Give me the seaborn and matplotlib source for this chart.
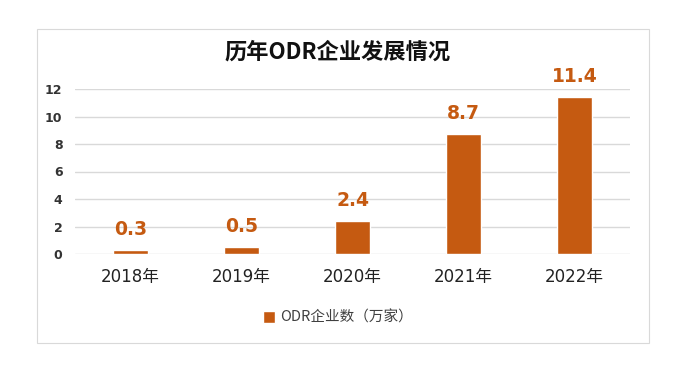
import matplotlib
matplotlib.use("Agg")
import matplotlib.pyplot as plt
import pandas as pd
import seaborn as sns
from matplotlib.patches import Rectangle

years = ["2018年", "2019年", "2020年", "2021年", "2022年"]
counts = [0.3, 0.5, 2.4, 8.7, 11.4]
yticks = [0, 2, 4, 6, 8, 10, 12]
title = "历年ODR企业发展情况"
series_name = "ODR企业数（万家）"

BAR_COLOR = "#C55A11"
LATIN = ["DejaVu Sans", "Noto Sans CJK SC"]


def main() -> None:
    sns.set_style("white")
    plt.rcParams["font.family"] = ["Noto Sans CJK SC", "DejaVu Sans"]

    df = pd.DataFrame({"year": years, "count": counts})

    fig = plt.figure(figsize=(6.76, 3.74), dpi=100)
    # outer frame
    fig.patches.append(Rectangle((37 / 676, 1 - 343 / 374), (649 - 37) / 676, (343 - 29) / 374,
                                 transform=fig.transFigure, fill=False,
                                 edgecolor="#D9D9D9", linewidth=0.8))
    ax = fig.add_axes([75 / 676, 1 - 254 / 374, (630 - 75) / 676, (254 - 89) / 374])

    sns.barplot(data=df, x="year", y="count", color=BAR_COLOR, width=0.32,
                saturation=1, ax=ax, label=series_name)

    ax.set_ylim(0, 12)
    ax.set_yticks(yticks)
    ax.yaxis.grid(True, color="#D9D9D9", linewidth=1)
    ax.set_axisbelow(True)
    for s in ax.spines.values():
        s.set_visible(False)
    ax.tick_params(axis="both", length=0)
    ax.tick_params(axis="y", pad=9)
    ax.tick_params(axis="x", pad=10)
    for lbl in ax.get_yticklabels():
        lbl.set_fontweight("bold")
        lbl.set_fontsize(9)
        lbl.set_color("#333333")
        lbl.set_family(LATIN)
    for lbl in ax.get_xticklabels():
        lbl.set_fontsize(12)
        lbl.set_color("#222222")
        lbl.set_family(LATIN)
    ax.set_xlabel("")
    ax.set_ylabel("")

    for i, v in enumerate(counts):
        ax.annotate(f"{v}", (i, v), xytext=(0, 8), textcoords="offset points",
                    ha="center", va="bottom", color=BAR_COLOR, family=LATIN,
                    fontsize=13.5, fontweight="bold", annotation_clip=False)

    fig.text(0.5, 1 - 52 / 374, title, ha="center", va="center",
             fontsize=16, fontweight="bold", color="#111111")

    leg = ax.legend(loc="center", bbox_to_anchor=(0.5, 1 - 318 / 374),
                    bbox_transform=fig.transFigure, frameon=False, fontsize=10.5,
                    handlelength=0.8, handleheight=0.8, handletextpad=0.4)
    for t in leg.get_texts():
        t.set_color("#404040")

    fig.savefig("out.png", dpi=100)


if __name__ == "__main__":
    main()
